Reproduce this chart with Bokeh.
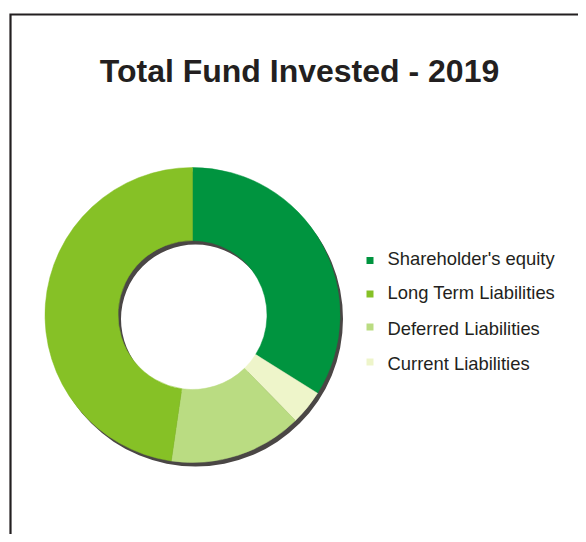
import math
from bokeh.plotting import figure
from bokeh.models import Range1d
from bokeh.core.properties import value
from bokeh.embed import file_html
from bokeh.resources import INLINE

# ---- data ----
title = "Total Fund Invested - 2019"
categories = ["Shareholder's equity", "Long Term  Liabilities", "Deferred Liabilities", "Current Liabilities"]
shares = [33.9, 47.7, 14.6, 3.8]
colors = ["#00943f", "#86c126", "#badc82", "#eef5ca"]
# clockwise drawing order from 12 o'clock
draw_order = [0, 3, 2, 1]

W, H = 578, 534
p = figure(width=W, height=H, output_backend="svg", toolbar_location=None,
           x_range=Range1d(0, W), y_range=Range1d(0, H), min_border=0)
p.axis.visible = False
p.grid.visible = False
p.outline_line_color = None
p.background_fill_color = "white"
p.border_fill_color = "white"

def Y(fy):
    return H - fy

# frame
p.line(x=[10, 10, W + 20], y=[-20, Y(14), Y(14)], line_color="#231f20", line_width=2.2,
       line_join="miter")

# donut
cx, cy = 192, Y(314.5)
r_out, r_in = 147.5, 74.5
total = sum(shares)

# shadow
p.annulus(x=[cx + 3], y=[cy - 4], inner_radius=r_in, outer_radius=r_out,
          fill_color="#4a4645", line_color=None)

cum = 0.0
starts, ends, cols = [], [], []
for i in draw_order:
    a0 = math.pi / 2 - cum / total * 2 * math.pi
    cum += shares[i]
    a1 = math.pi / 2 - cum / total * 2 * math.pi
    starts.append(a0)
    ends.append(a1)
    cols.append(colors[i])
p.annular_wedge(x=[cx] * len(starts), y=[cy] * len(starts), inner_radius=r_in, outer_radius=r_out,
                start_angle=starts, end_angle=ends, direction="clock",
                fill_color=cols, line_color=cols, line_width=0.5)

# title
p.text(x=[299], y=[Y(70)], text=[title], text_font=value("Liberation Sans"),
       text_font_style="bold", text_font_size="32px", text_color="#231f20",
       text_align="center", text_baseline="alphabetic")

# legend
sq_y = [260, 293.5, 326.5, 361.5]
tx_y = [258, 292, 327.5, 363]
p.scatter(x=[369.5] * 4, y=[Y(v) for v in sq_y], marker="square", size=7,
          fill_color=colors, line_color=None)
p.text(x=[387] * 4, y=[Y(v) for v in tx_y], text=categories, text_font=value("Liberation Sans"),
       text_font_size="18.4px", text_color="#231f20", text_align="left",
       text_baseline="alphabetic")

open("out.html", "w").write(file_html(p, INLINE))
